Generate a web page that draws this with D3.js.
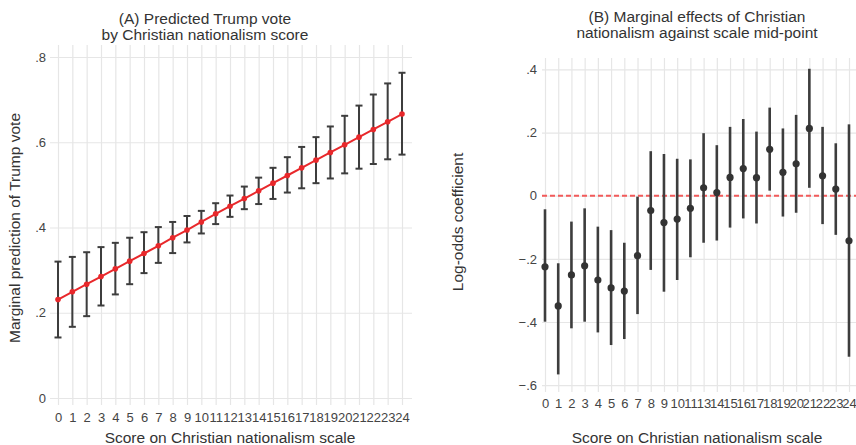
<!DOCTYPE html>
<html>
<head>
<meta charset="utf-8">
<script src="https://cdn.jsdelivr.net/npm/d3@7"></script>
<style>
  body { margin: 0; background: #fff; }
  svg { display: block; font-family: "Liberation Sans", Arial, sans-serif; }
  .grid line { stroke: #e6e6e6; stroke-width: 1.2; }
  .grid path { display: none; }
  .tick text { fill: #444; font-size: 13px; }
  .title { fill: #333; font-size: 15.5px; text-anchor: middle; }
  .axis-title { fill: #333; font-size: 15.5px; text-anchor: middle; }
</style>
</head>
<body>
<div id="chart"></div>
<script>
// Panel A: predicted Trump vote by score
const scoresA = d3.range(0, 25);
const predA = [0.231, 0.249, 0.267, 0.285, 0.303, 0.321, 0.339, 0.357, 0.376, 0.394, 0.413, 0.432, 0.450, 0.468, 0.486, 0.504, 0.522, 0.540, 0.558, 0.576, 0.594, 0.612, 0.630, 0.648, 0.666];
const lowA = [0.142, 0.167, 0.192, 0.217, 0.243, 0.267, 0.293, 0.317, 0.340, 0.365, 0.386, 0.408, 0.425, 0.443, 0.455, 0.467, 0.482, 0.492, 0.504, 0.515, 0.527, 0.538, 0.549, 0.560, 0.571];
const highA = [0.320, 0.331, 0.342, 0.354, 0.364, 0.376, 0.389, 0.401, 0.413, 0.427, 0.439, 0.457, 0.475, 0.496, 0.517, 0.540, 0.565, 0.589, 0.612, 0.637, 0.662, 0.686, 0.712, 0.738, 0.763];
const yTicksA = [0, 0.2, 0.4, 0.6, 0.8];

// Panel B: marginal effects against scale mid-point (12 omitted)
const scoresB = ['0','1','2','3','4','5','6','7','8','9','10','11','13','14','15','16','17','18','19','20','21','22','23','24'];
const effB = [-0.225, -0.349, -0.251, -0.222, -0.267, -0.292, -0.302, -0.190, -0.047, -0.085, -0.074, -0.040, 0.025, 0.010, 0.058, 0.086, 0.057, 0.147, 0.074, 0.101, 0.213, 0.063, 0.021, -0.143];
const lowB = [-0.399, -0.566, -0.420, -0.399, -0.433, -0.473, -0.454, -0.375, -0.235, -0.304, -0.267, -0.195, -0.149, -0.142, -0.101, -0.072, -0.088, 0.016, -0.066, -0.054, 0.025, -0.090, -0.124, -0.510];
const highB = [-0.043, -0.214, -0.082, -0.040, -0.098, -0.109, -0.149, -0.003, 0.141, 0.132, 0.117, 0.115, 0.198, 0.160, 0.218, 0.243, 0.203, 0.279, 0.213, 0.256, 0.402, 0.218, 0.166, 0.226];
const yTicksB = [-0.6, -0.4, -0.2, 0, 0.2, 0.4];

const fmt = v => v === 0 ? '0' : d3.format('.1f')(v).replace('0.', '.');

const W = 856, H = 445;
const svg = d3.select('#chart').append('svg').attr('width', W).attr('height', H);

// ---------- Panel A ----------
const xA = d3.scaleLinear().domain([0, 24]).range([58, 402]);
const yA = d3.scaleLinear().domain([0, 0.8]).range([398, 57]);
const gA = svg.append('g');

gA.append('g').attr('class', 'grid')
  .attr('transform', 'translate(0,405)')
  .call(d3.axisBottom(xA).tickValues(scoresA).tickSize(-360).tickFormat(''));
gA.append('g').attr('class', 'grid')
  .attr('transform', 'translate(412,0)')
  .call(d3.axisLeft(yA).tickValues(yTicksA).tickSize(362).tickFormat(''));

gA.append('g')
  .attr('transform', 'translate(46,0)')
  .call(d3.axisLeft(yA).tickValues(yTicksA).tickSize(0).tickPadding(0).tickFormat(fmt))
  .call(g => g.select('.domain').remove());
gA.append('g')
  .attr('transform', 'translate(0,413)')
  .call(d3.axisBottom(xA).tickValues(scoresA).tickSize(0).tickPadding(0).tickFormat(d3.format('d')))
  .call(g => g.select('.domain').remove());

// error bars
const barsA = gA.append('g').attr('stroke', '#3d3d3d').attr('stroke-width', 2);
scoresA.forEach((s, i) => {
  const x = xA(s);
  barsA.append('line').attr('x1', x).attr('x2', x).attr('y1', yA(lowA[i])).attr('y2', yA(highA[i]));
  barsA.append('line').attr('x1', x - 3.5).attr('x2', x + 3.5).attr('y1', yA(lowA[i])).attr('y2', yA(lowA[i]));
  barsA.append('line').attr('x1', x - 3.5).attr('x2', x + 3.5).attr('y1', yA(highA[i])).attr('y2', yA(highA[i]));
});

gA.append('path')
  .datum(predA)
  .attr('fill', 'none')
  .attr('stroke', '#e8282b')
  .attr('stroke-width', 2)
  .attr('d', d3.line().x((d, i) => xA(scoresA[i])).y(d => yA(d)));
gA.selectAll('.dotA').data(predA).enter().append('circle')
  .attr('cx', (d, i) => xA(scoresA[i]))
  .attr('cy', d => yA(d))
  .attr('r', 2.8)
  .attr('fill', '#e8282b');

gA.append('text').attr('class', 'title').attr('x', 205).attr('y', 24).text('(A) Predicted Trump vote');
gA.append('text').attr('class', 'title').attr('x', 205).attr('y', 40).text('by Christian nationalism score');
gA.append('text').attr('class', 'axis-title').attr('x', 230).attr('y', 443).text('Score on Christian nationalism scale');
gA.append('text').attr('class', 'axis-title')
  .attr('transform', 'translate(20,228) rotate(-90)').text('Marginal prediction of Trump vote');

// ---------- Panel B ----------
const xB = d3.scalePoint().domain(scoresB).range([545, 849]);
const yB = d3.scaleLinear().domain([0, 0.4]).range([195.7, 69.4]);
const gB = svg.append('g');

gB.append('g').attr('class', 'grid')
  .attr('transform', 'translate(0,392)')
  .call(d3.axisBottom(xB).tickSize(-334).tickFormat(''));
gB.append('g').attr('class', 'grid')
  .attr('transform', 'translate(856,0)')
  .call(d3.axisLeft(yB).tickValues(yTicksB).tickSize(314).tickFormat(''));

gB.append('g')
  .attr('transform', 'translate(537,0)')
  .call(d3.axisLeft(yB).tickValues(yTicksB).tickSize(0).tickPadding(0).tickFormat(fmt))
  .call(g => g.select('.domain').remove());
gB.append('g')
  .attr('transform', 'translate(0,399)')
  .call(d3.axisBottom(xB).tickSize(0).tickPadding(0))
  .call(g => g.select('.domain').remove());

gB.append('line')
  .attr('x1', 542).attr('x2', 856).attr('y1', yB(0)).attr('y2', yB(0))
  .attr('stroke', '#f25a5a').attr('stroke-width', 2).attr('stroke-dasharray', '5,3');

gB.selectAll('.barB').data(scoresB).enter().append('line')
  .attr('x1', d => xB(d)).attr('x2', d => xB(d))
  .attr('y1', (d, i) => yB(lowB[i])).attr('y2', (d, i) => yB(highB[i]))
  .attr('stroke', '#3d3d3d').attr('stroke-width', 2.6);
gB.selectAll('.dotB').data(scoresB).enter().append('circle')
  .attr('cx', d => xB(d))
  .attr('cy', (d, i) => yB(effB[i]))
  .attr('r', 3.6)
  .attr('fill', '#333');

gB.append('text').attr('class', 'title').attr('x', 697).attr('y', 22).text('(B) Marginal effects of Christian');
gB.append('text').attr('class', 'title').attr('x', 697).attr('y', 38).text('nationalism against scale mid-point');
gB.append('text').attr('class', 'axis-title').attr('x', 697).attr('y', 443).text('Score on Christian nationalism scale');
gB.append('text').attr('class', 'axis-title')
  .attr('transform', 'translate(463,222) rotate(-90)').text('Log-odds coefficient');
</script>
</body>
</html>
